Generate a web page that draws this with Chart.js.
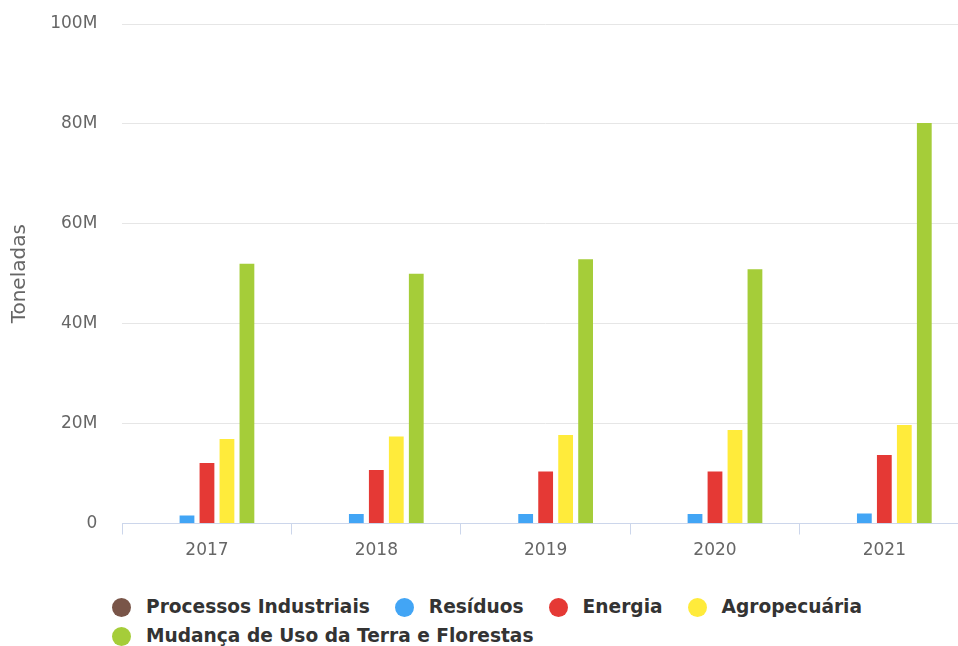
<!DOCTYPE html>
<html lang="pt">
<head>
    <meta charset="UTF-8">
    <title>Emissões por setor</title>
    <script src="https://cdn.jsdelivr.net/npm/chart.js"></script>
    <style>
        html, body { margin: 0; padding: 0; background: #fff; overflow: hidden; }
        body { width: 958px; height: 646px; position: relative; font-family: "DejaVu Sans", Verdana, sans-serif; }
        #grafico { position: absolute; left: 0; top: 0; }
        .legenda { position: absolute; left: 112px; top: 596px; width: 820px; display: flex; flex-wrap: wrap; row-gap: 7px; column-gap: 25px; }
        .item { display: flex; align-items: center; font-weight: bold; font-size: 18.6px; color: #333; line-height: 22px; }
        .item span.ponto { width: 19px; height: 19px; border-radius: 50%; margin-right: 15px; display: inline-block; }
    </style>
</head>
<body>
    <canvas id="grafico" width="969" height="570"></canvas>
    <div class="legenda" id="legenda"></div>

<script>
// anos e emissões (toneladas) por setor
const anos = ['2017', '2018', '2019', '2020', '2021'];
const processosIndustriais = [0, 0, 0, 0, 0];
const residuos = [1.6e6, 1.9e6, 1.9e6, 1.9e6, 2.0e6];
const energia = [12.1e6, 10.7e6, 10.4e6, 10.4e6, 13.7e6];
const agropecuaria = [16.9e6, 17.4e6, 17.7e6, 18.7e6, 19.7e6];
const mudancaUsoTerra = [52.0e6, 50.0e6, 52.9e6, 50.9e6, 80.2e6];

const setores = [
    { nome: 'Processos Industriais', dados: processosIndustriais, cor: '#795548' },
    { nome: 'Resíduos', dados: residuos, cor: '#42a5f5' },
    { nome: 'Energia', dados: energia, cor: '#e53935' },
    { nome: 'Agropecuária', dados: agropecuaria, cor: '#ffeb3b' },
    { nome: 'Mudança de Uso da Terra e Florestas', dados: mudancaUsoTerra, cor: '#a5cd39' }
];

const fonte = "'DejaVu Sans', Verdana, sans-serif";

new Chart(document.getElementById('grafico').getContext('2d'), {
    type: 'bar',
    data: {
        labels: anos,
        datasets: setores.map(s => ({
            label: s.nome,
            data: s.dados,
            backgroundColor: s.cor,
            borderWidth: 0,
            categoryPercentage: 0.59,
            barPercentage: 0.74
        }))
    },
    options: {
        responsive: false,
        animation: false,
        layout: { padding: { top: 24, right: 0, bottom: 0, left: 0 } },
        plugins: {
            legend: { display: false },
            tooltip: { enabled: false }
        },
        scales: {
            x: {
                afterFit: function(scale) { scale.height = 46.5; },
                grid: {
                    offset: true,
                    drawOnChartArea: false,
                    drawTicks: true,
                    tickLength: 11,
                    color: '#ccd6eb'
                },
                border: { color: '#ccd6eb', width: 1 },
                ticks: {
                    padding: 6,
                    color: '#666',
                    font: { family: fonte, size: 17 }
                }
            },
            y: {
                min: 0,
                max: 100e6,
                afterFit: function(scale) { scale.width = 122.3; },
                // marcas invisíveis só para afastar os rótulos das linhas
                grid: { color: '#e6e6e6', drawTicks: true, tickLength: 25, tickColor: 'rgba(0,0,0,0)' },
                border: { display: false },
                title: {
                    display: true,
                    text: 'Toneladas',
                    color: '#666',
                    font: { family: fonte, size: 20 },
                    padding: { top: 8, bottom: 0 }
                },
                ticks: {
                    stepSize: 20e6,
                    padding: 0,
                    color: '#666',
                    font: { family: fonte, size: 17 },
                    callback: function(valor) {
                        return valor === 0 ? '0' : (valor / 1e6) + 'M';
                    }
                }
            }
        }
    }
});

// legenda em HTML, em linhas alinhadas à esquerda
const legenda = document.getElementById('legenda');
setores.forEach(s => {
    const item = document.createElement('div');
    item.className = 'item';
    const ponto = document.createElement('span');
    ponto.className = 'ponto';
    ponto.style.background = s.cor;
    item.appendChild(ponto);
    item.appendChild(document.createTextNode(s.nome));
    legenda.appendChild(item);
});
</script>
</body>
</html>
